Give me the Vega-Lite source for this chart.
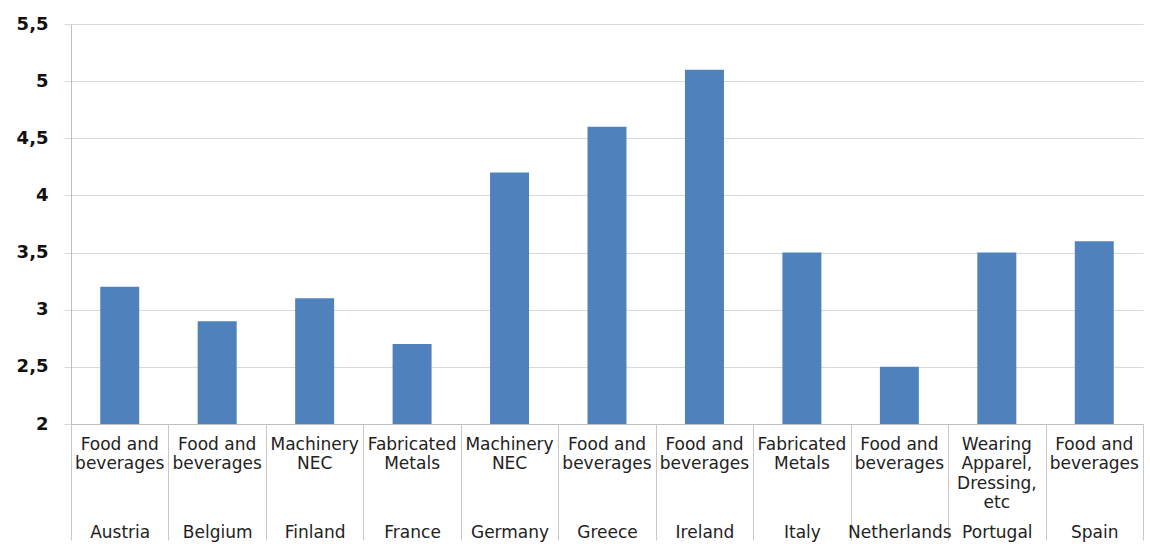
{
  "$schema": "https://vega.github.io/schema/vega-lite/v6.json",
  "width": 1072,
  "height": 400,
  "autosize": {"type": "none"},
  "padding": {"left": 71, "top": 24, "right": 7, "bottom": 120},
  "background": "white",
  "config": {"view": {"stroke": null}},
  "data": {
    "values": [
      {"country": "Austria", "industry": "Food and\nbeverages", "value": 3.2},
      {"country": "Belgium", "industry": "Food and\nbeverages", "value": 2.9},
      {"country": "Finland", "industry": "Machinery\nNEC", "value": 3.1},
      {"country": "France", "industry": "Fabricated\nMetals", "value": 2.7},
      {"country": "Germany", "industry": "Machinery\nNEC", "value": 4.2},
      {"country": "Greece", "industry": "Food and\nbeverages", "value": 4.6},
      {"country": "Ireland", "industry": "Food and\nbeverages", "value": 5.1},
      {"country": "Italy", "industry": "Fabricated\nMetals", "value": 3.5},
      {"country": "Netherlands", "industry": "Food and\nbeverages", "value": 2.5},
      {"country": "Portugal", "industry": "Wearing\nApparel,\nDressing,\netc", "value": 3.5},
      {"country": "Spain", "industry": "Food and\nbeverages", "value": 3.6}
    ]
  },
  "transform": [{"calculate": "datum.industry + '#' + datum.country", "as": "key"}],
  "layer": [
    {
      "mark": {"type": "bar", "color": "#4F81BD", "width": {"band": 0.4}, "clip": true},
      "encoding": {
        "x": {
          "field": "key", "type": "nominal", "sort": null, "title": null,
          "scale": {"paddingInner": 0, "paddingOuter": 0},
          "axis": {
            "orient": "bottom",
            "labelExpr": "split(split(datum.value, '#')[0], '\\n')",
            "labelAngle": 0,
            "ticks": false,
            "domain": true,
            "domainColor": "#bfbfbf",
            "labelFont": "DejaVu Sans",
            "labelFontSize": 17,
            "labelColor": "#222222",
            "labelLineHeight": 19.5,
            "labelPadding": 20,
            "labelBaseline": "middle"
          }
        },
        "y": {
          "field": "value", "type": "quantitative", "title": null,
          "scale": {"domain": [2, 5.5], "nice": false, "zero": false},
          "axis": {
            "values": [2, 2.5, 3, 3.5, 4, 4.5, 5, 5.5],
            "labelExpr": "replace(format(datum.value, '.1~f'), '.', ',')",
            "grid": true,
            "gridColor": "#d9d9d9",
            "tickColor": "#d9d9d9",
            "tickSize": 7,
            "domainColor": "#bfbfbf",
            "labelFont": "DejaVu Sans",
            "labelFontWeight": "bold",
            "labelFontSize": 18,
            "labelColor": "#111111",
            "labelPadding": 16
          }
        }
      }
    },
    {
      "mark": {"type": "rule", "opacity": 0},
      "encoding": {
        "x": {
          "field": "key", "type": "nominal", "sort": null, "title": null,
          "axis": {
            "orient": "bottom",
            "labelExpr": "split(datum.value, '#')[1]",
            "labelAngle": 0,
            "ticks": true,
            "tickBand": "extent",
            "tickSize": 116,
            "tickColor": "#c8c8c8",
            "domain": false,
            "labelFont": "DejaVu Sans",
            "labelFontSize": 17,
            "labelColor": "#222222",
            "labelBaseline": "middle",
            "labelPadding": -8
          }
        }
      }
    }
  ],
  "resolve": {"axis": {"x": "independent"}}
}
